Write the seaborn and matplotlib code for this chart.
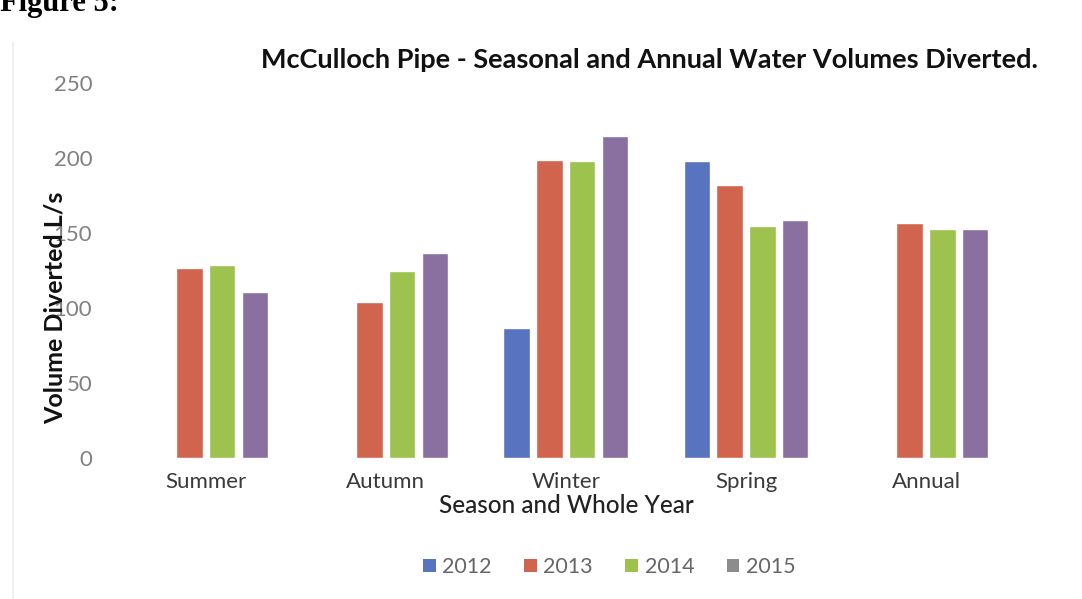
import matplotlib
matplotlib.use("Agg")
import matplotlib.pyplot as plt
import seaborn as sns
import pandas as pd
import numpy as np
from matplotlib.patches import Patch

categories = ["Summer", "Autumn", "Winter", "Spring", "Annual"]
years = ["2012", "2013", "2014", "2015"]
v2012 = [np.nan, np.nan, 87, 198, np.nan]
v2013 = [127, 104, 199, 182, 157]
v2014 = [129, 125, 198, 155, 153]
v2015 = [111, 137, 215, 159, 153]
yticks = [0, 50, 100, 150, 200, 250]

colors = ["#5873C0", "#D0644C", "#9DC24E", "#8A6FA1"]
legend_colors = ["#5873C0", "#D0644C", "#9DC24E", "#8C8C8C"]

rows = []
for yr, vals in zip(years, [v2012, v2013, v2014, v2015]):
    for c, v in zip(categories, vals):
        rows.append({"Season": c, "Year": yr, "Value": v})
df = pd.DataFrame(rows)

sns.set_theme(style="white")
plt.rcParams["font.family"] = ["Lato", "DejaVu Sans"]

fig = plt.figure(figsize=(10.82, 5.99), dpi=100)
ax = fig.add_axes([0.107, 0.235, 0.832, 0.626])

sns.barplot(data=df, x="Season", y="Value", hue="Year", order=categories,
            hue_order=years, palette=colors, width=0.73, gap=0.2,
            saturation=1, ax=ax, legend=False, errorbar=None)

ax.set_xlim(-0.5, 4.5)
ax.set_ylim(0, 250)
ax.set_yticks(yticks)
ax.set_yticklabels([str(t) for t in yticks], color="#808080", fontsize=16)
ax.tick_params(axis="y", length=0, pad=17)
ax.tick_params(axis="x", length=0, pad=10, labelsize=16, labelcolor="#3A3A3A")
for s in ax.spines.values():
    s.set_visible(False)
ax.axhline(0, color="#E6E6E6", lw=0.8, zorder=0)

ax.set_xlabel("Season and Whole Year", fontsize=17.5, color="#222222",
              fontweight="medium", labelpad=1.5)
ax.set_ylabel("Volume Diverted L/s", fontsize=18, color="#111111", fontweight="bold")
ax.yaxis.set_label_coords(-0.055, 0.40)

fig.text(0.6, 0.9, "McCulloch Pipe - Seasonal and Annual Water Volumes Diverted.",
         ha="center", va="center", fontsize=19.5, fontweight="bold", color="#111111")

fig.text(0.0, 0.97, "Figure 5:", ha="left", va="bottom", fontsize=22,
         fontweight="bold", family=["Liberation Serif", "DejaVu Serif"], color="black")

handles = [Patch(facecolor=c, edgecolor="none") for c in legend_colors]
fig.legend(handles, years, loc="center", bbox_to_anchor=(0.563, 0.053), ncol=4,
           frameon=False, fontsize=15.5, labelcolor="#666666", handlelength=0.6,
           handleheight=0.6, handletextpad=0.3, columnspacing=1.5)

# faint frame line
fig.add_artist(plt.Line2D([0.012, 0.012], [0.0, 0.93], color="#EEEEEE", lw=1.2))

fig.savefig("out.png", dpi=100)
